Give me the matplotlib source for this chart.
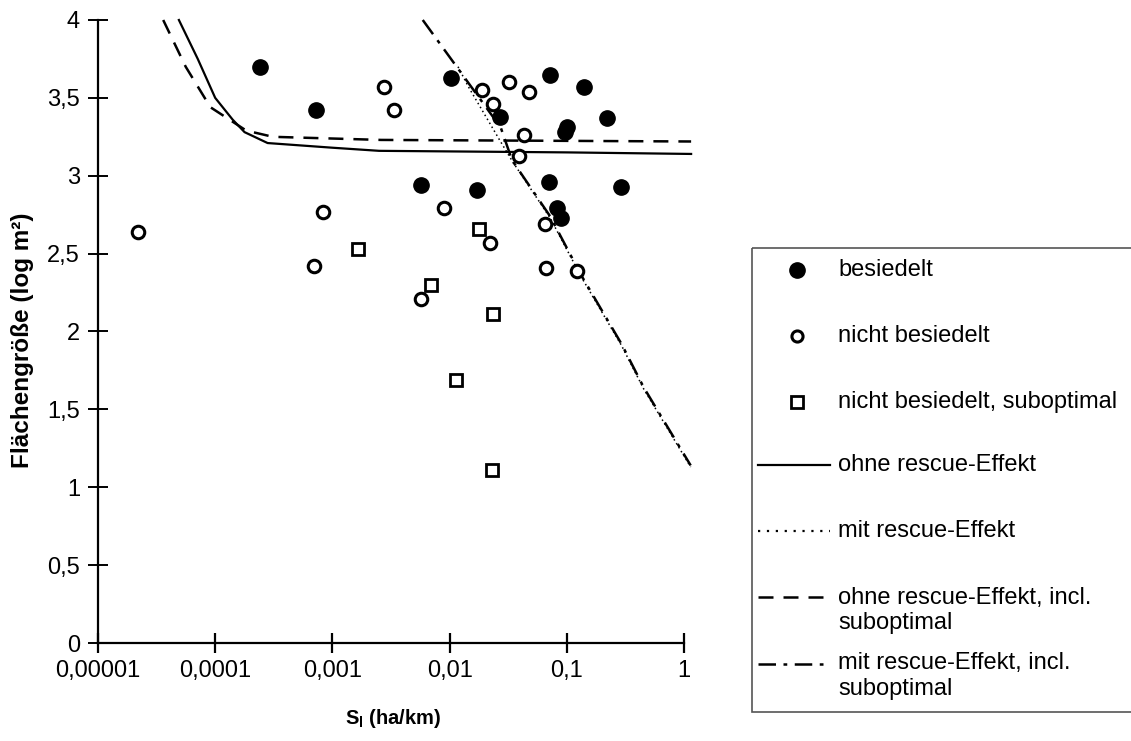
import matplotlib
matplotlib.use("Agg")
import matplotlib.pyplot as plt
from matplotlib.lines import Line2D
from matplotlib.patches import Rectangle
from matplotlib.ticker import FixedLocator, FixedFormatter

plt.rcParams['font.family'] = ['Liberation Sans', 'DejaVu Sans']
plt.rcParams['mathtext.fontset'] = 'custom'
plt.rcParams['mathtext.rm'] = 'Liberation Sans'
plt.rcParams['mathtext.bf'] = 'Liberation Sans:bold'

# besiedelt (filled circles)
bes_x = [2.4e-4, 7.2e-4, 0.0103, 0.0057, 0.0172, 0.027, 0.072, 0.139, 0.097,
         0.100, 0.221, 0.071, 0.288, 0.082, 0.090]
bes_y = [3.70, 3.42, 3.63, 2.94, 2.91, 3.38, 3.65, 3.57, 3.28,
         3.31, 3.37, 2.96, 2.93, 2.79, 2.73]

# nicht besiedelt (open circles)
nb_x = [2.2e-5, 0.00275, 0.00334, 8.3e-4, 7.0e-4, 0.0090, 0.0057, 0.0189, 0.0234,
        0.032, 0.0477, 0.0432, 0.0389, 0.022, 0.0648, 0.067, 0.1216]
nb_y = [2.64, 3.57, 3.42, 2.77, 2.42, 2.79, 2.21, 3.55, 3.46,
        3.60, 3.54, 3.26, 3.13, 2.57, 2.69, 2.41, 2.39]

# nicht besiedelt, suboptimal (open squares)
sub_x = [0.00165, 0.0069, 0.0177, 0.0236, 0.0114, 0.023]
sub_y = [2.53, 2.30, 2.66, 2.11, 1.69, 1.11]

# model curves
ohne_x = [4.9e-5, 7.1e-5, 1.0e-4, 1.41e-4, 1.78e-4, 2.8e-4, 1e-3, 2.5e-3, 0.1, 1.15]
ohne_y = [4.0, 3.75, 3.50, 3.36, 3.28, 3.21, 3.18, 3.16, 3.15, 3.14]

mit_x = [0.0118, 0.0145, 0.0262, 0.0345, 0.072, 0.133, 0.293, 0.454, 1.14]
mit_y = [3.70, 3.57, 3.24, 3.09, 2.73, 2.35, 1.91, 1.63, 1.13]

ohne_sub_x = [3.6e-5, 5.6e-5, 9.1e-5, 1.84e-4, 3.1e-4, 2.6e-3, 1.15]
ohne_sub_y = [4.0, 3.70, 3.44, 3.29, 3.25, 3.23, 3.22]

mit_sub_x = [0.0059, 0.0273, 0.0341, 0.072, 0.133, 0.293, 0.454, 1.14]
mit_sub_y = [4.0, 3.31, 3.10, 2.74, 2.36, 1.92, 1.64, 1.14]

xticks = [1e-5, 1e-4, 1e-3, 1e-2, 1e-1, 1]
xticklabels = ['0,00001', '0,0001', '0,001', '0,01', '0,1', '1']
yticks = [0, 0.5, 1, 1.5, 2, 2.5, 3, 3.5, 4]
yticklabels = ['0', '0,5', '1', '1,5', '2', '2,5', '3', '3,5', '4']

labels = ['besiedelt', 'nicht besiedelt', 'nicht besiedelt, suboptimal',
          'ohne rescue-Effekt', 'mit rescue-Effekt',
          'ohne rescue-Effekt, incl.', 'suboptimal',
          'mit rescue-Effekt, incl.', 'suboptimal']

W, H = 1131, 741
fig = plt.figure(figsize=(W / 100, H / 100), dpi=100)
ax = fig.add_axes([98 / W, (H - 643) / H, (684 - 98) / W, (643 - 20) / H])

ax.set_xscale('log')
ax.set_xlim(1e-5, 1)
ax.set_ylim(0, 4)

ax.plot(ohne_x, ohne_y, color='black', lw=1.6, clip_on=False)
ax.plot(mit_x, mit_y, color='black', lw=1.1, ls=(0, (1, 2)), clip_on=False)
ax.plot(ohne_sub_x, ohne_sub_y, color='black', lw=1.8, ls=(0, (6, 4)), clip_on=False)
ax.plot(mit_sub_x, mit_sub_y, color='black', lw=1.8, ls=(0, (7, 3, 1.5, 3)), clip_on=False)

ax.plot(bes_x, bes_y, 'o', color='black', ms=11, zorder=3)
ax.plot(nb_x, nb_y, 'o', mfc='white', mec='black', mew=2.2, ms=9, zorder=3)
ax.plot(sub_x, sub_y, 's', mfc='white', mec='black', mew=2.0, ms=9, zorder=3)

for s in ['top', 'right']:
    ax.spines[s].set_visible(False)
for s in ['left', 'bottom']:
    ax.spines[s].set_linewidth(1.6)

ax.xaxis.set_major_locator(FixedLocator(xticks))
ax.xaxis.set_major_formatter(FixedFormatter(xticklabels))
ax.xaxis.set_minor_locator(FixedLocator([]))
ax.set_yticks(yticks)
ax.set_yticklabels(yticklabels)
ax.tick_params(axis='x', direction='inout', length=14, width=1.6, labelsize=17, pad=5)
ax.tick_params(axis='y', direction='inout', length=14, width=1.4, labelsize=17, pad=6)

fig.text(393, H - 718, r'$\mathbf{S_l}$ (ha/km)', fontsize=14.5, fontweight='bold',
         ha='center', va='center', transform=None)
fig.text(23, H - 340, 'Flächengröße (log m²)', fontsize=17.5, fontweight='bold',
         rotation=90, ha='center', va='center', transform=None)

# legend box, drawn in pixel coordinates on an overlay axes
lax = fig.add_axes([0, 0, 1, 1])
lax.set_xlim(0, W)
lax.set_ylim(H, 0)
lax.axis('off')
lax.add_patch(Rectangle((752, 248), 400, 464, fill=False, ec='#555555', lw=1.2))

rows = [270, 336, 402, 465, 531, 598, 623, 663, 689]
tx = 838
lax.add_line(Line2D([797], [rows[0]], marker='o', color='black', ms=11))
lax.add_line(Line2D([797], [rows[1]], marker='o', mfc='white', mec='black', mew=2.2, ms=8))
lax.add_line(Line2D([797], [rows[2]], marker='s', mfc='white', mec='black', mew=2.0, ms=8))
lax.add_line(Line2D([758, 830], [465] * 2, color='black', lw=1.6))
lax.add_line(Line2D([758, 830], [531] * 2, color='black', lw=1.6, ls=(0, (1, 3))))
lax.add_line(Line2D([758, 826], [597] * 2, color='black', lw=1.8, ls=(0, (6, 4))))
lax.add_line(Line2D([758, 830], [664] * 2, color='black', lw=1.8, ls=(0, (7, 3, 1.5, 3))))
for r, lab in zip(rows, labels):
    lax.text(tx, r, lab, fontsize=17, va='center', ha='left')

fig.savefig('out.png', dpi=100)
